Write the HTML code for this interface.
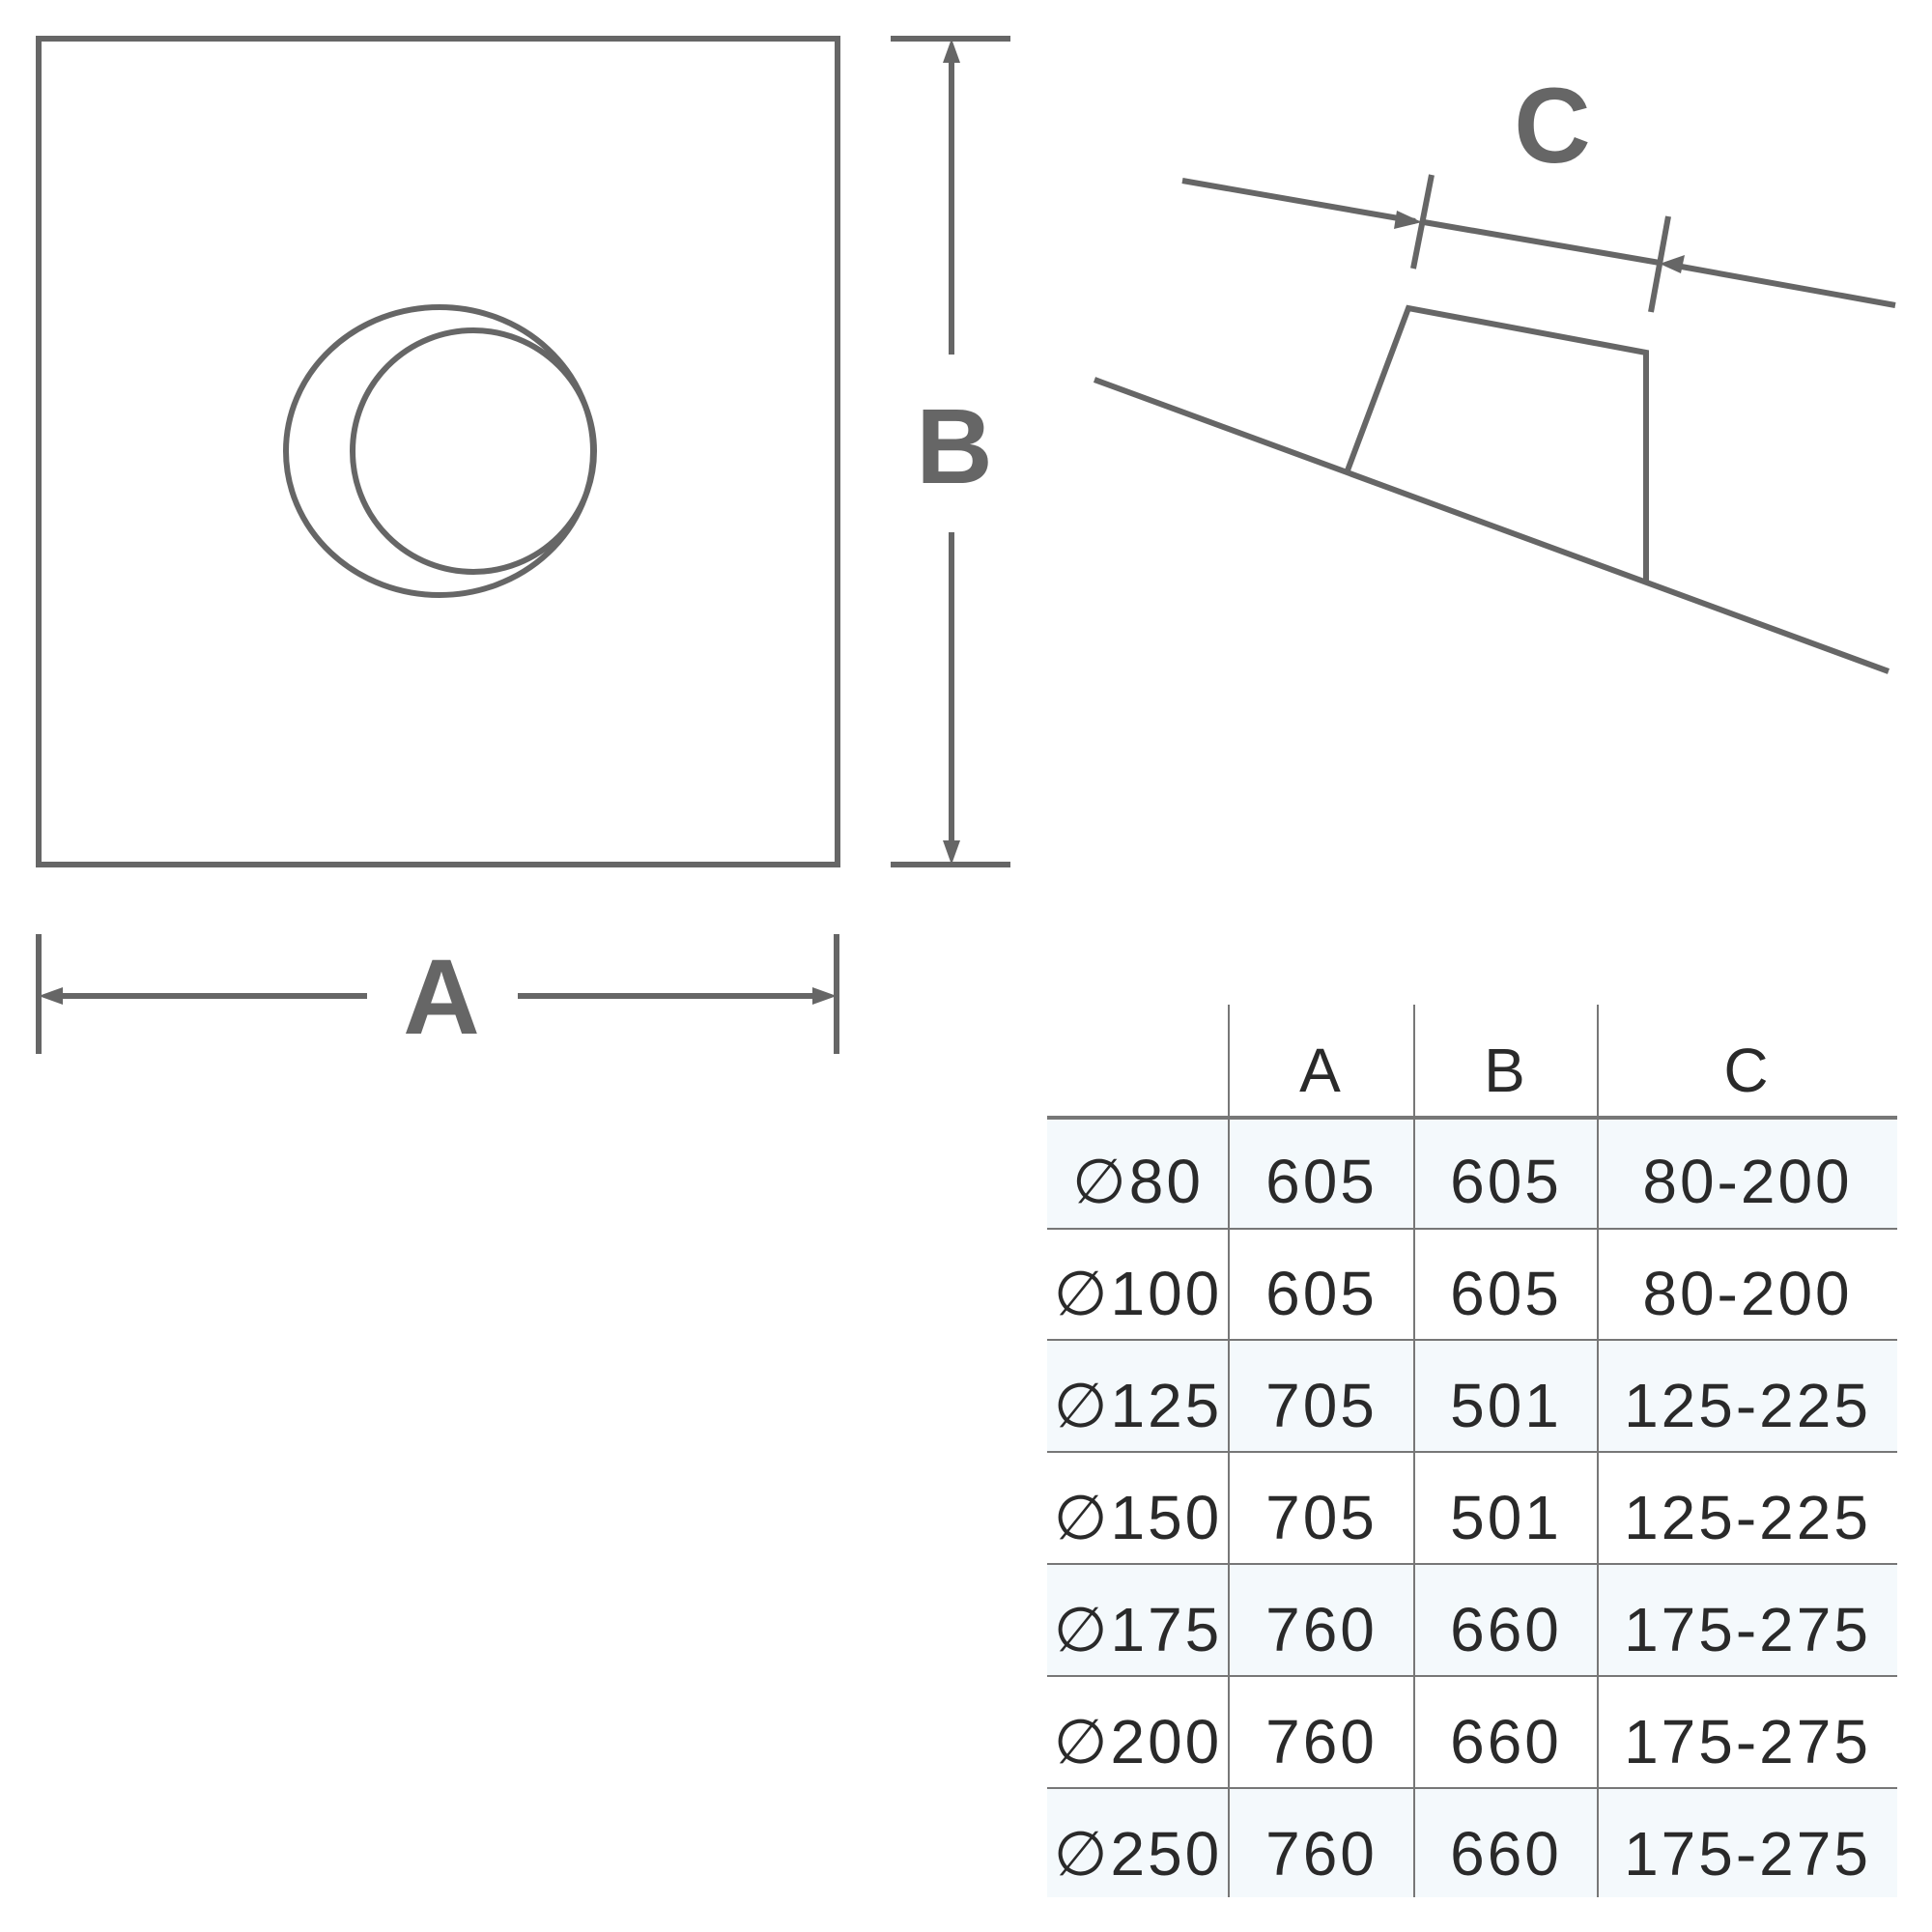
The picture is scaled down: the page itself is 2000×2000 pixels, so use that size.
<!DOCTYPE html>
<html><head><meta charset="utf-8"><style>
html,body{margin:0;padding:0;background:#fff;}
svg{display:block;}
</style></head><body>
<svg width="2000" height="2000" viewBox="0 0 2000 2000" xmlns="http://www.w3.org/2000/svg">
<g stroke="#666" fill="none" stroke-width="6">
<rect x="40" y="40" width="827" height="855"/>
<ellipse cx="455" cy="467" rx="159" ry="149"/>
<circle cx="490" cy="467" r="125"/>
<line x1="922" y1="40" x2="1046" y2="40"/>
<line x1="922" y1="895" x2="1046" y2="895"/>
<line x1="985" y1="55" x2="985" y2="367"/>
<line x1="985" y1="551" x2="985" y2="880"/>
<line x1="40" y1="967" x2="40" y2="1091"/>
<line x1="866" y1="967" x2="866" y2="1091"/>
<line x1="55" y1="1031" x2="380" y2="1031"/>
<line x1="536" y1="1031" x2="851" y2="1031"/>
<line x1="1224" y1="187" x2="1465" y2="229"/>
<line x1="1474" y1="230" x2="1718" y2="272"/>
<line x1="1735" y1="275" x2="1962" y2="316"/>
<line x1="1482" y1="181" x2="1463" y2="278"/>
<line x1="1727" y1="224" x2="1709" y2="323"/>
<line x1="1133" y1="393" x2="1955" y2="695"/>
<polyline points="1395,487 1458,319 1704,365 1704,601"/>
</g>
<g fill="#666">
<polygon points="985,40 976,65 994,65"/>
<polygon points="985,895 976,870 994,870"/>
<polygon points="40,1031 65,1022 65,1040"/>
<polygon points="866,1031 841,1022 841,1040"/>
<polygon points="1472,230 1446,218 1443,237"/>
<polygon points="1718,273 1744,264 1740,283"/>
</g>
<g font-family="Liberation Sans, sans-serif" font-weight="bold" fill="#666" text-anchor="middle">
<text x="988" y="500" font-size="110">B</text>
<text x="457" y="1070" font-size="110">A</text>
<text x="1607" y="168" font-size="110">C</text>
</g>
<g fill="#f4f9fc">
<rect x="1084" y="1158" width="880" height="114"/>
<rect x="1084" y="1387" width="880" height="116"/>
<rect x="1084" y="1619" width="880" height="116"/>
<rect x="1084" y="1851" width="880" height="113"/>
</g>
<g stroke="#777" stroke-width="2">
<line x1="1272" y1="1040" x2="1272" y2="1964"/>
<line x1="1464" y1="1040" x2="1464" y2="1964"/>
<line x1="1654" y1="1040" x2="1654" y2="1964"/>
<line x1="1084" y1="1272" x2="1964" y2="1272"/>
<line x1="1084" y1="1387" x2="1964" y2="1387"/>
<line x1="1084" y1="1503" x2="1964" y2="1503"/>
<line x1="1084" y1="1619" x2="1964" y2="1619"/>
<line x1="1084" y1="1735" x2="1964" y2="1735"/>
<line x1="1084" y1="1851" x2="1964" y2="1851"/>
</g>
<line x1="1084" y1="1157" x2="1964" y2="1157" stroke="#777" stroke-width="4"/>
<g font-family="Liberation Sans, sans-serif" font-size="64" fill="#2a2a2a" text-anchor="middle" letter-spacing="3">
<text x="1368" y="1130">A</text><text x="1559" y="1130">B</text><text x="1809" y="1130">C</text>
<text x="1178" y="1245">∅80</text><text x="1368" y="1245">605</text><text x="1559" y="1245">605</text><text x="1809" y="1245">80-200</text>
<text x="1178" y="1361">∅100</text><text x="1368" y="1361">605</text><text x="1559" y="1361">605</text><text x="1809" y="1361">80-200</text>
<text x="1178" y="1477">∅125</text><text x="1368" y="1477">705</text><text x="1559" y="1477">501</text><text x="1809" y="1477">125-225</text>
<text x="1178" y="1593">∅150</text><text x="1368" y="1593">705</text><text x="1559" y="1593">501</text><text x="1809" y="1593">125-225</text>
<text x="1178" y="1709">∅175</text><text x="1368" y="1709">760</text><text x="1559" y="1709">660</text><text x="1809" y="1709">175-275</text>
<text x="1178" y="1825">∅200</text><text x="1368" y="1825">760</text><text x="1559" y="1825">660</text><text x="1809" y="1825">175-275</text>
<text x="1178" y="1941">∅250</text><text x="1368" y="1941">760</text><text x="1559" y="1941">660</text><text x="1809" y="1941">175-275</text>
</g>
</svg>
</body></html>
